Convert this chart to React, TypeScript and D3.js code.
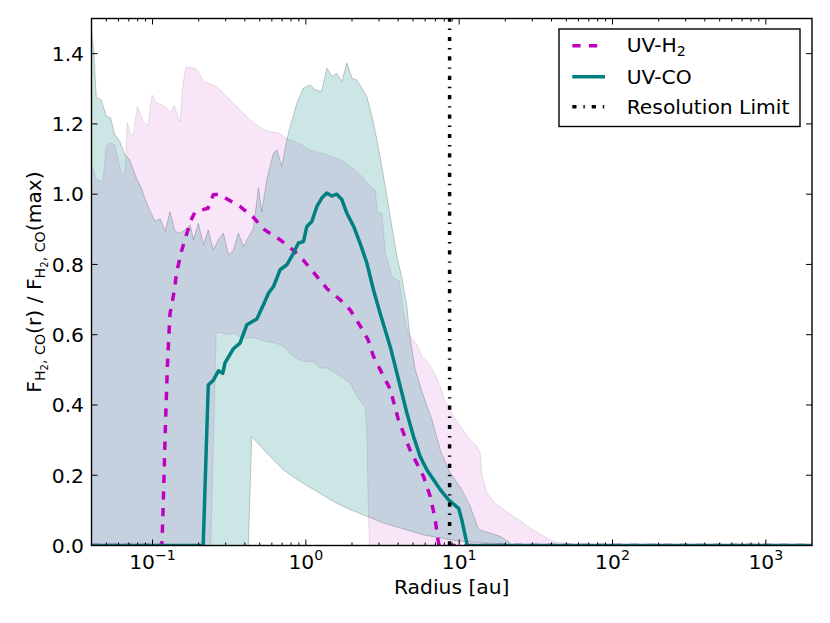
import React from "react";
import * as d3 from "d3";

type Pt = [number, number];

// radius [au], normalised flux
const uvH2: Pt[] = [
  [0.04, 0], [0.115, 0], [0.117, 0.09], [0.121, 0.32], [0.125, 0.51], [0.13, 0.66],
  [0.138, 0.72], [0.144, 0.78], [0.155, 0.84], [0.165, 0.88], [0.18, 0.93], [0.19, 0.95],
  [0.21, 0.955], [0.23, 0.96], [0.249, 0.998], [0.27, 1.0], [0.31, 0.985], [0.372, 0.965],
  [0.45, 0.936], [0.54, 0.898], [0.68, 0.87], [0.83, 0.84], [0.96, 0.813], [1.18, 0.766],
  [1.38, 0.73], [1.67, 0.7], [1.95, 0.67], [2.26, 0.625], [2.55, 0.585], [2.75, 0.54],
  [3.14, 0.49], [3.55, 0.445], [4.0, 0.36], [4.8, 0.27], [5.57, 0.215], [5.86, 0.196],
  [6.48, 0.139], [6.98, 0.075], [7.2, 0.026], [7.4, 0], [2000, 0],
];

const uvCO: Pt[] = [
  [0.04, 0], [0.214, 0], [0.231, 0.457], [0.249, 0.47], [0.269, 0.497], [0.287, 0.49],
  [0.297, 0.52], [0.337, 0.56], [0.372, 0.576], [0.412, 0.628], [0.479, 0.645], [0.529, 0.685],
  [0.57, 0.718], [0.615, 0.737], [0.68, 0.785], [0.752, 0.799], [0.83, 0.832], [0.895, 0.861],
  [0.965, 0.865], [1.015, 0.908], [1.094, 0.922], [1.18, 0.965], [1.27, 0.989], [1.37, 1.003],
  [1.48, 0.995], [1.59, 1.0], [1.72, 0.984], [1.85, 0.946], [2.05, 0.908], [2.26, 0.86],
  [2.5, 0.804], [2.76, 0.728], [3.05, 0.661], [3.55, 0.566], [4.13, 0.452], [4.56, 0.377],
  [5.04, 0.31], [5.57, 0.253], [6.16, 0.215], [6.81, 0.187], [7.53, 0.159], [8.53, 0.13],
  [9.95, 0.105], [10.4, 0.073], [11.3, 0], [2000, 0],
];

// envelopes
const h2Upper: Pt[] = [
  [0.0398, 1.078], [0.0409, 1.075], [0.043, 1.042], [0.0475, 1.037], [0.0499, 1.137],
  [0.0526, 1.146], [0.0566, 1.141], [0.0595, 1.1], [0.0626, 1.061], [0.0659, 1.056],
  [0.0671, 1.12], [0.0685, 1.203], [0.0721, 1.17], [0.0746, 1.165], [0.0796, 1.25],
  [0.0867, 1.208], [0.0935, 1.193], [0.0993, 1.282], [0.106, 1.26], [0.117, 1.253],
  [0.123, 1.246], [0.131, 1.231], [0.138, 1.253], [0.151, 1.206], [0.158, 1.312],
  [0.165, 1.361], [0.189, 1.359], [0.199, 1.349], [0.215, 1.32], [0.249, 1.311],
  [0.276, 1.297], [0.321, 1.268], [0.372, 1.24], [0.433, 1.211], [0.529, 1.183],
  [0.585, 1.178], [0.663, 1.174], [0.751, 1.159], [0.895, 1.145], [1.07, 1.126],
  [1.37, 1.112], [1.67, 1.098], [1.95, 1.079], [2.26, 1.055], [2.63, 1.022], [2.83, 1.012],
  [2.93, 0.946], [3.13, 0.946], [3.29, 0.837], [3.64, 0.766], [4.08, 0.751], [4.34, 0.66],
  [4.56, 0.62], [4.67, 0.604], [5.3, 0.571], [5.72, 0.538], [6.31, 0.519], [6.81, 0.495],
  [7.53, 0.452], [8.11, 0.41], [9.19, 0.367], [10.2, 0.339], [11.5, 0.306], [13.1, 0.282],
  [13.7, 0.263], [14.1, 0.196], [15.2, 0.149], [16.8, 0.125], [19.5, 0.102], [22.6, 0.083],
  [26.3, 0.064], [27.7, 0.054], [41.3, 0.011], [61.7, 0],
];

const h2Lower: Pt[] = [
  [0.0398, 0], [0.24, 0], [0.26, 0.604], [0.276, 0.607], [0.305, 0.6], [0.337, 0.604],
  [0.372, 0.595], [0.412, 0.59], [0.455, 0.592], [0.556, 0.58], [0.647, 0.576], [0.714, 0.566],
  [0.83, 0.538], [0.965, 0.524], [1.12, 0.524], [1.24, 0.505], [1.37, 0.505], [1.51, 0.495],
  [1.76, 0.476], [1.95, 0.462], [2.15, 0.424], [2.32, 0.405], [2.44, 0.396], [2.5, 0.32],
  [2.56, 0.092], [2.6, 0], [61.7, 0],
];

const coUpper: Pt[] = [
  [0.0398, 1.48], [0.0415, 1.4], [0.043, 1.274], [0.0463, 1.269], [0.0499, 1.222],
  [0.0533, 1.217], [0.0566, 1.17], [0.0611, 1.151], [0.0659, 1.113], [0.071, 1.098],
  [0.0784, 1.046], [0.0845, 1.018], [0.0889, 0.989], [0.097, 0.95], [0.104, 0.922],
  [0.112, 0.93], [0.121, 0.894], [0.13, 0.95], [0.14, 0.894], [0.151, 0.889], [0.163, 0.898],
  [0.176, 0.913], [0.185, 0.87], [0.199, 0.917], [0.215, 0.856], [0.231, 0.898], [0.249, 0.841],
  [0.269, 0.87], [0.29, 0.889], [0.313, 0.827], [0.337, 0.841], [0.363, 0.889], [0.392, 0.851],
  [0.455, 0.903], [0.491, 1.017], [0.516, 0.95], [0.556, 1.041], [0.615, 1.117], [0.647, 1.126],
  [0.697, 1.079], [0.751, 1.155], [0.79, 1.192], [0.873, 1.259], [0.965, 1.302], [1.07, 1.311],
  [1.15, 1.297], [1.27, 1.292], [1.37, 1.359], [1.48, 1.335], [1.59, 1.344], [1.72, 1.32],
  [1.85, 1.373], [2.0, 1.33], [2.15, 1.325], [2.5, 1.278], [2.7, 1.221], [2.91, 1.154],
  [3.13, 1.079], [3.38, 0.993], [3.64, 0.908], [3.93, 0.822], [4.24, 0.76], [4.56, 0.68],
  [4.75, 0.6], [5.17, 0.5], [5.86, 0.424], [6.64, 0.358], [7.53, 0.272], [8.53, 0.215],
  [9.68, 0.178], [10.4, 0.159], [11.8, 0.111], [12.7, 0.073], [13.4, 0.045], [16.0, 0.035],
  [18.5, 0.026], [21.0, 0.011], [22.1, 0],
];

const coLower: Pt[] = [
  [0.0398, 0], [0.422, 0], [0.444, 0.31], [0.556, 0.263], [0.714, 0.215], [0.918, 0.182],
  [1.18, 0.154], [1.51, 0.125], [1.95, 0.102], [2.5, 0.083], [3.21, 0.064], [4.13, 0.05],
  [5.86, 0.03], [9.68, 0.013], [17.7, 0.005], [22.1, 0],
];

const resolutionLimit = 8.66;
const yTicks = [0, 0.2, 0.4, 0.6, 0.8, 1.0, 1.2, 1.4];
const xTicks = [0.1, 1, 10, 100, 1000];
const xTickExp = ["\u22121", "0", "1", "2", "3"];

const W = 830;
const H = 623;
const box = { left: 91.5, right: 812, top: 18.5, bottom: 545.5 };
const FONT = "'DejaVu Sans', Verdana, sans-serif";
const FS = 20.3;
const SUB = 14.2;
const MAGENTA = "#bf00bf";
const TEAL = "#008080";

export default function App() {
  const x = d3.scaleLog().domain([0.04, 2000]).range([box.left, box.right]);
  const y = d3.scaleLinear().domain([0, 1.5]).range([box.bottom, box.top]);
  const line = d3.line<Pt>().x((d) => x(d[0])).y((d) => y(d[1]));
  const band = (hi: Pt[], lo: Pt[]) => line([...hi, ...lo.slice().reverse()]) + "Z";

  const minor: number[] = [];
  for (let e = -2; e <= 3; e++) {
    for (let k = 2; k <= 9; k++) {
      const v = k * Math.pow(10, e);
      if (v > 0.04 && v < 2000) minor.push(v);
    }
  }

  const xr = x(resolutionLimit);

  return (
    <svg
      width={W}
      height={H}
      style={{ position: "fixed", left: 0, top: 0, background: "#fff" }}
      fontFamily={FONT}
    >
      <defs>
        <clipPath id="plotClip">
          <rect x={box.left} y={box.top} width={box.right - box.left} height={box.bottom - box.top} />
        </clipPath>
      </defs>

      <g clipPath="url(#plotClip)">
        <path d={band(h2Upper, h2Lower)} fill={MAGENTA} fillOpacity={0.1} stroke="#000" strokeOpacity={0.1} strokeWidth={1} />
        <path d={band(coUpper, coLower)} fill={TEAL} fillOpacity={0.2} stroke="#000" strokeOpacity={0.2} strokeWidth={1} />

        <path d={line(uvH2) || ""} fill="none" stroke={MAGENTA} strokeWidth={3.5} strokeDasharray="8.3 8.3" />
        <path d={line(uvCO) || ""} fill="none" stroke={TEAL} strokeWidth={3.5} strokeLinejoin="round" />
        <line x1={xr} x2={xr} y1={box.bottom} y2={box.top} stroke="#000" strokeWidth={3.5} strokeDasharray="4.2 6.9 1.4 6.9" />
      </g>

      {/* frame */}
      <rect x={box.left} y={box.top} width={box.right - box.left} height={box.bottom - box.top} fill="none" stroke="#000" strokeWidth={1.4} />

      {/* x ticks */}
      {xTicks.map((t, i) => (
        <g key={"xt" + t}>
          <line x1={x(t)} x2={x(t)} y1={box.bottom} y2={box.bottom - 6} stroke="#000" strokeWidth={1} />
          <line x1={x(t)} x2={x(t)} y1={box.top} y2={box.top + 6} stroke="#000" strokeWidth={1} />
          <text x={x(t)} y={568.5} textAnchor="middle" fontSize={FS}>
            10<tspan dy={-8.5} fontSize={SUB}>{xTickExp[i]}</tspan>
          </text>
        </g>
      ))}
      {minor.map((t) => (
        <g key={"xm" + t}>
          <line x1={x(t)} x2={x(t)} y1={box.bottom} y2={box.bottom - 3} stroke="#000" strokeWidth={1} />
          <line x1={x(t)} x2={x(t)} y1={box.top} y2={box.top + 3} stroke="#000" strokeWidth={1} />
        </g>
      ))}

      {/* y ticks */}
      {yTicks.map((t) => (
        <g key={"yt" + t}>
          <line x1={box.left} x2={box.left + 6} y1={y(t)} y2={y(t)} stroke="#000" strokeWidth={1} />
          <line x1={box.right} x2={box.right - 6} y1={y(t)} y2={y(t)} stroke="#000" strokeWidth={1} />
          <text x={84} y={y(t)} dy="0.36em" textAnchor="end" fontSize={FS}>
            {d3.format(".1f")(t)}
          </text>
        </g>
      ))}

      {/* axis titles */}
      <text x={(box.left + box.right) / 2} y={593.5} textAnchor="middle" fontSize={FS}>
        Radius [au]
      </text>
      <text transform={`translate(41,${(box.top + box.bottom) / 2}) rotate(-90)`} textAnchor="middle" fontSize={FS}>
        F<tspan fontSize={SUB} dy={4}>H</tspan>
        <tspan fontSize={10} dy={2.5}>2</tspan>
        <tspan fontSize={SUB} dy={-2.5}>, CO</tspan>
        <tspan fontSize={FS} dy={-4}>(r) / F</tspan>
        <tspan fontSize={SUB} dy={4}>H</tspan>
        <tspan fontSize={10} dy={2.5}>2</tspan>
        <tspan fontSize={SUB} dy={-2.5}>, CO</tspan>
        <tspan fontSize={FS} dy={-4}>(max)</tspan>
      </text>

      {/* legend */}
      <g>
        <rect x={559} y={29} width={241} height={97.5} fill="#fff" stroke="#000" strokeWidth={1.4} />
        <line x1={572.3} x2={605} y1={45.7} y2={45.7} stroke={MAGENTA} strokeWidth={3.5} strokeDasharray="8.3 8.3" />
        <text x={626.7} y={51.7} fontSize={FS}>
          UV-H<tspan fontSize={SUB} dy={4}>2</tspan>
        </text>
        <line x1={572.3} x2={605} y1={76.7} y2={76.7} stroke={TEAL} strokeWidth={3.5} />
        <text x={626.7} y={84} fontSize={FS}>UV-CO</text>
        <line x1={572.3} x2={605} y1={106.7} y2={106.7} stroke="#000" strokeWidth={3.5} strokeDasharray="4.2 6.9 1.4 6.9" />
        <text x={626.7} y={114.3} fontSize={FS}>Resolution Limit</text>
      </g>
    </svg>
  );
}
